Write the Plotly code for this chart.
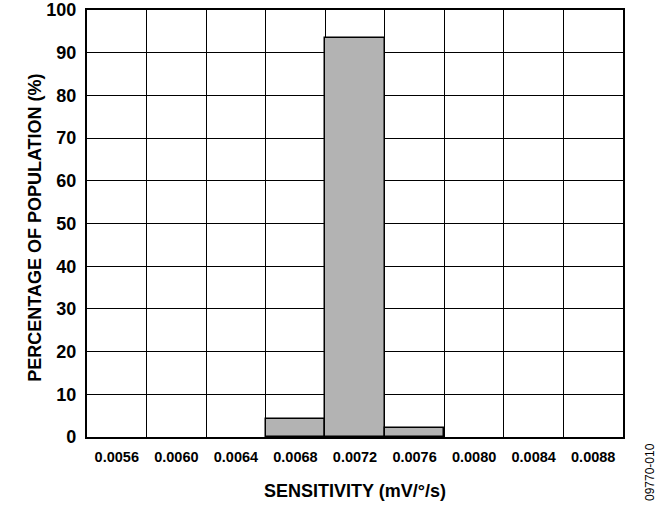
import plotly.graph_objects as go

categories = ["0.0056", "0.0060", "0.0064", "0.0068", "0.0072", "0.0076", "0.0080", "0.0084", "0.0088"]
percentages = [0, 0, 0, 4.2, 93.5, 2.2, 0, 0, 0]
y_ticks = [0, 10, 20, 30, 40, 50, 60, 70, 80, 90, 100]

positions = list(range(len(categories)))
FONT = "Liberation Sans, Arial, sans-serif"

fig = go.Figure()
fig.add_trace(go.Bar(
    x=positions, y=percentages, width=1,
    marker=dict(color="#b3b3b3",
                line=dict(color="black", width=[1.5 if v > 0 else 0 for v in percentages])),
    showlegend=False, hoverinfo="skip",
))

fig.update_layout(
    width=665, height=505,
    margin=dict(l=87, r=42, t=10, b=68),
    paper_bgcolor="white", plot_bgcolor="white",
    font=dict(family=FONT, color="black"),
    bargap=0,
    xaxis=dict(
        range=[-0.5, len(categories) - 0.5], automargin=False,
        tickmode="array", tickvals=positions, ticktext=["<b>%s</b>" % c for c in categories],
        tickfont=dict(size=14.5), showgrid=False, zeroline=False,
        showline=True, mirror=True, linecolor="black", linewidth=2.2,
        ticks="", ticklabelstandoff=5,
        minor=dict(tick0=0.5, dtick=1, showgrid=True, gridcolor="black", gridwidth=1.2, ticks=""),
    ),
    yaxis=dict(
        range=[0, 100], tickmode="array", tickvals=y_ticks, automargin=False,
        ticktext=["<b>%d</b>" % v for v in y_ticks],
        tickfont=dict(size=18), showgrid=True, gridcolor="black", gridwidth=1.2,
        zeroline=False, showline=True, mirror=True, linecolor="black", linewidth=2.2,
        ticks="", ticklabelstandoff=5,
    ),
    annotations=[
        dict(text="<b>SENSITIVITY (mV/°/s)</b>", xref="paper", yref="paper", x=0.5, y=0,
             yshift=-54, showarrow=False, font=dict(size=18), xanchor="center", yanchor="middle"),
        dict(text="<b>PERCENTAGE OF POPULATION (%)</b>", xref="paper", yref="paper", x=0, y=0.49,
             xshift=-52, showarrow=False, textangle=-90, font=dict(size=18),
             xanchor="center", yanchor="middle"),
        dict(text="09770-010", xref="paper", yref="paper", x=1.0, y=0, xshift=27, yshift=-35,
             showarrow=False, textangle=-90, font=dict(size=12, family=FONT),
             xanchor="center", yanchor="middle"),
    ],
)

fig.write_html(
    "out.html",
    config={"displayModeBar": False},
    post_script="document.body.style.margin='0';document.body.style.overflow='hidden';",
)
